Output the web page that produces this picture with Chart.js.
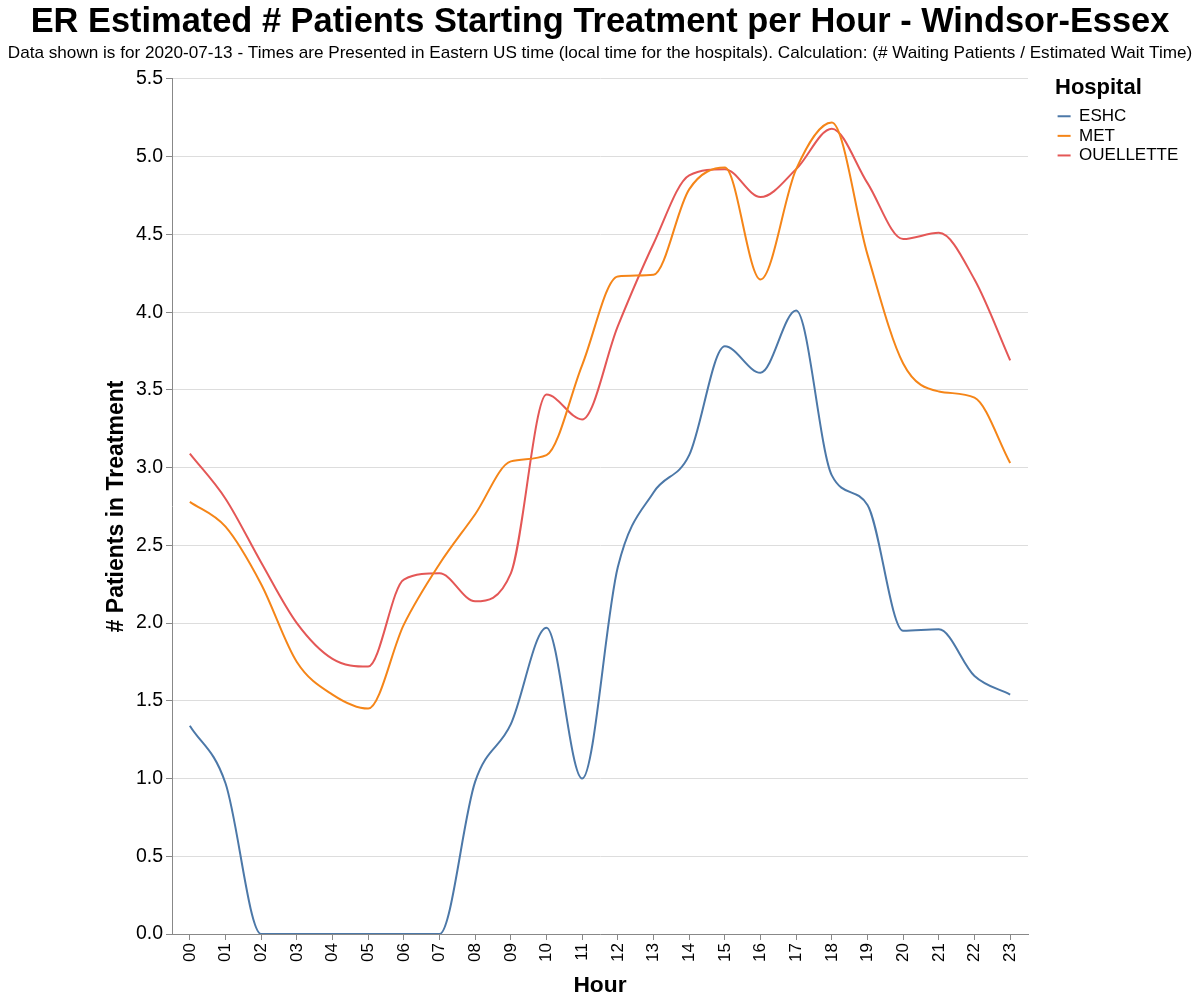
<!DOCTYPE html>
<html>
<head>
<meta charset="utf-8">
<script src="https://cdn.jsdelivr.net/npm/chart.js@4"></script>
<style>
  html, body { margin: 0; padding: 0; background: #fff; }
  #wrap { width: 1200px; height: 1003px; position: relative; }
</style>
</head>
<body>
<div id="wrap"><canvas id="c" width="1200" height="1003"></canvas></div>
<script>
const hours = ['00','01','02','03','04','05','06','07','08','09','10','11','12','13','14','15','16','17','18','19','20','21','22','23'];
const eshc = [1.34, 0.97, 0, 0, 0, 0, 0, 0, 0.98, 1.35, 1.97, 1.0, 2.36, 2.84, 3.08, 3.78, 3.61, 4.01, 2.95, 2.76, 1.95, 1.96, 1.66, 1.54];
const met = [2.78, 2.62, 2.25, 1.75, 1.54, 1.45, 1.99, 2.38, 2.70, 3.04, 3.08, 3.66, 4.23, 4.24, 4.79, 4.93, 4.21, 4.92, 5.22, 4.37, 3.67, 3.49, 3.45, 3.03];
const ouellette = [3.09, 2.80, 2.39, 2.00, 1.77, 1.72, 2.28, 2.32, 2.14, 2.32, 3.47, 3.31, 3.91, 4.44, 4.88, 4.92, 4.74, 4.92, 5.18, 4.83, 4.47, 4.51, 4.21, 3.69];
const yTicks = [0, 0.5, 1.0, 1.5, 2.0, 2.5, 3.0, 3.5, 4.0, 4.5, 5.0, 5.5];

const FONT = "'Liberation Sans', Arial, Helvetica, sans-serif";

// Give the legend a fixed column on the right and place its content with a small gap from the plot
const legendPlace = {
  id: 'legendPlace',
  beforeLayout(chart) {
    const L = chart.legend;
    if (L && !L._fixedWidth) {
      const f = L.fit;
      L.fit = function () { f.call(this); this.width = 172; };
      L._fixedWidth = true;
    }
  },
  afterLayout(chart) {
    const L = chart.legend;
    const a = chart.chartArea;
    if (!L) return;
    const w = L.right - L.left;
    L.left = a.right + 27;
    L.right = L.left + w;
    L.top = a.top - 2;
  }
};

new Chart(document.getElementById('c'), {
  type: 'line',
  data: {
    labels: hours,
    datasets: [
      { label: 'ESHC', data: eshc, borderColor: '#4c78a8', backgroundColor: '#4c78a8', borderWidth: 2 },
      { label: 'MET', data: met, borderColor: '#f58518', backgroundColor: '#f58518', borderWidth: 2 },
      { label: 'OUELLETTE', data: ouellette, borderColor: '#e45756', backgroundColor: '#e45756', borderWidth: 2 }
    ]
  },
  plugins: [legendPlace],
  options: {
    responsive: false,
    animation: false,
    devicePixelRatio: 1,
    layout: { padding: { left: 0, right: 0, top: 0, bottom: 0 } },
    elements: {
      line: { borderWidth: 2, cubicInterpolationMode: 'monotone', fill: false },
      point: { radius: 0, hoverRadius: 0 }
    },
    plugins: {
      title: {
        display: true,
        text: 'ER Estimated # Patients Starting Treatment per Hour - Windsor-Essex',
        color: '#000',
        font: { family: FONT, size: 34.4, weight: 'bold' },
        padding: { top: 1.5, bottom: 0 }
      },
      subtitle: {
        display: true,
        text: 'Data shown is for 2020-07-13 - Times are Presented in Eastern US time (local time for the hospitals). Calculation: (# Waiting Patients / Estimated Wait Time)',
        color: '#000',
        font: { family: FONT, size: 17.15 },
        padding: { top: 0, bottom: 15.6 }
      },
      legend: {
        position: 'right',
        align: 'start',
        fullSize: false,
        title: {
          display: true,
          text: 'Hospital',
          color: '#000',
          position: 'start',
          font: { family: FONT, size: 22, weight: 'bold' },
          padding: { top: 0, bottom: 1.8 }
        },
        labels: {
          color: '#000',
          usePointStyle: true,
          pointStyle: 'line',
          pointStyleWidth: 13,
          padding: 2.6,
          font: { family: FONT, size: 17 }
        }
      },
      tooltip: { enabled: false }
    },
    scales: {
      x: {
        type: 'category',
        offset: true,
        afterFit: (s) => { s.height = 69; },
        grid: { display: true, drawOnChartArea: false, offset: false, tickLength: 6, tickColor: '#888' },
        border: { color: '#888', width: 1 },
        ticks: { color: '#000', minRotation: 90, maxRotation: 90, padding: 3, font: { family: FONT, size: 17 } },
        title: { display: true, text: 'Hour', color: '#000', font: { family: FONT, size: 22.8, weight: 'bold' }, padding: { top: 0, bottom: 4 } }
      },
      y: {
        min: 0,
        max: 5.5,
        afterFit: (s) => { s.width = 172; },
        afterBuildTicks: (s) => { s.ticks = yTicks.map(v => ({ value: v })); },
        grid: { color: '#ddd', tickLength: 6, tickColor: '#888' },
        border: { color: '#888', width: 1 },
        ticks: { color: '#000', padding: 3, font: { family: FONT, size: 19.5 }, callback: (v) => Number(v).toFixed(1) },
        title: { display: true, text: '# Patients in Treatment', color: '#000', font: { family: FONT, size: 23, weight: 'bold' }, padding: { top: 103, bottom: 0 } }
      }
    }
  }
});
</script>
</body>
</html>
